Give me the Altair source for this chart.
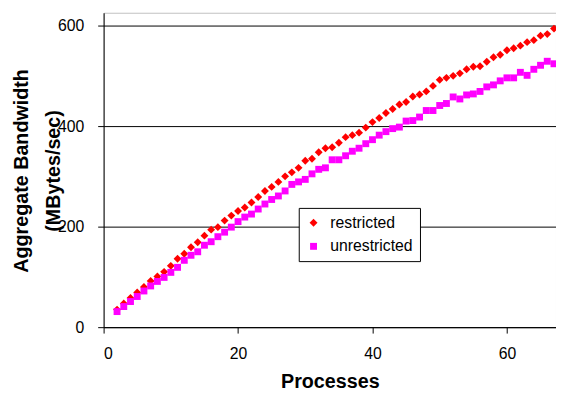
import altair as alt
import pandas as pd

processes = [2, 3, 4, 5, 6, 7, 8, 9, 10, 11, 12, 13, 14, 15, 16, 17, 18, 19, 20, 21,
             22, 23, 24, 25, 26, 27, 28, 29, 30, 31, 32, 33, 34, 35, 36, 37, 38, 39, 40, 41,
             42, 43, 44, 45, 46, 47, 48, 49, 50, 51, 52, 53, 54, 55, 56, 57, 58, 59, 60, 61,
             62, 63, 64, 65, 66, 67]

restricted = [35, 47, 58, 69, 80, 92, 101, 110, 122, 136, 146, 159, 169, 182, 194, 199, 212, 222, 231, 238,
              248, 259, 271, 279, 289, 300, 308, 317, 331, 335, 348, 356, 358, 367, 378, 382, 387, 397, 408, 416,
              426, 434, 443, 448, 459, 463, 469, 480, 492, 496, 500, 505, 513, 518, 519, 528, 537, 542, 551, 555,
              560, 567, 571, 580, 583, 594]

unrestricted = [31, 41, 51, 61, 72, 82, 91, 99, 109, 119, 133, 143, 150, 163, 170, 180, 189, 199, 210, 219,
                225, 235, 245, 254, 261, 271, 284, 289, 294, 305, 314, 317, 333, 333, 341, 350, 356, 365, 373, 382,
                389, 395, 398, 410, 411, 418, 431, 431, 441, 445, 458, 454, 462, 464, 469, 478, 482, 490, 496, 496,
                507, 501, 513, 521, 529, 524]

series_names = ["restricted", "unrestricted"]
series_colors = ["#FF0000", "#FF00FF"]
series_shapes = ["diamond", "square"]
series_sizes = [64, 49]

x_ticks = [0, 20, 40, 60]
y_ticks = [0, 200, 400, 600]

rows = []
for p, v in zip(processes, restricted):
    rows.append({"Processes": p, "Bandwidth": v, "series": "restricted"})
for p, v in zip(processes, unrestricted):
    rows.append({"Processes": p, "Bandwidth": v, "series": "unrestricted"})
df = pd.DataFrame(rows)

FONT = "Liberation Sans"

legend = alt.Legend(
    title=None,
    orient="none",
    legendX=198,
    legendY=198,
    strokeColor="black",
    fillColor="white",
    padding=7,
    labelFontSize=16,
    labelFont=FONT,
    labelColor="black",
    symbolSize=36,
    symbolStrokeWidth=0,
    labelOffset=9,
    rowPadding=8,
)

chart = alt.Chart(df).mark_point(filled=True, opacity=1).encode(
    x=alt.X(
        "Processes:Q",
        scale=alt.Scale(domain=[0, 67.3], nice=False, zero=False),
        axis=alt.Axis(
            values=x_ticks,
            title="Processes",
            grid=False,
            tickSize=6,
            labelPadding=13,
            titleY=61,
            titleBaseline="alphabetic",
        ),
    ),
    y=alt.Y(
        "Bandwidth:Q",
        scale=alt.Scale(domain=[0, 625.5], nice=False),
        axis=alt.Axis(
            values=y_ticks,
            title=["Aggregate Bandwidth", "(MBytes/sec)"],
            grid=True,
            tickSize=6,
            labelPadding=14,
            titleBaseline="top",
            titleX=-93,
            titleY=160,
            titleLineHeight=32,
        ),
    ),
    color=alt.Color("series:N", scale=alt.Scale(domain=series_names, range=series_colors), legend=legend),
    shape=alt.Shape("series:N", scale=alt.Scale(domain=series_names, range=series_shapes), legend=legend),
    size=alt.Size("series:N", scale=alt.Scale(domain=series_names, range=series_sizes), legend=None),
).properties(
    width=459,
    height=319,
    autosize=alt.AutoSizeParams(type="none"),
    padding={"left": 97, "top": 2, "right": 0, "bottom": 66},
).configure_view(
    stroke="#c0c0c0",
    strokeWidth=1,
).configure_axis(
    labelFont=FONT,
    labelFontSize=16,
    labelColor="black",
    titleFont=FONT,
    titleFontSize=20,
    titleFontWeight="bold",
    titleColor="black",
    domainColor="black",
    domainWidth=1,
    tickColor="black",
    gridColor="black",
    gridWidth=1,
)

chart.save("out.html", embed_options={"renderer": "svg", "actions": False})
